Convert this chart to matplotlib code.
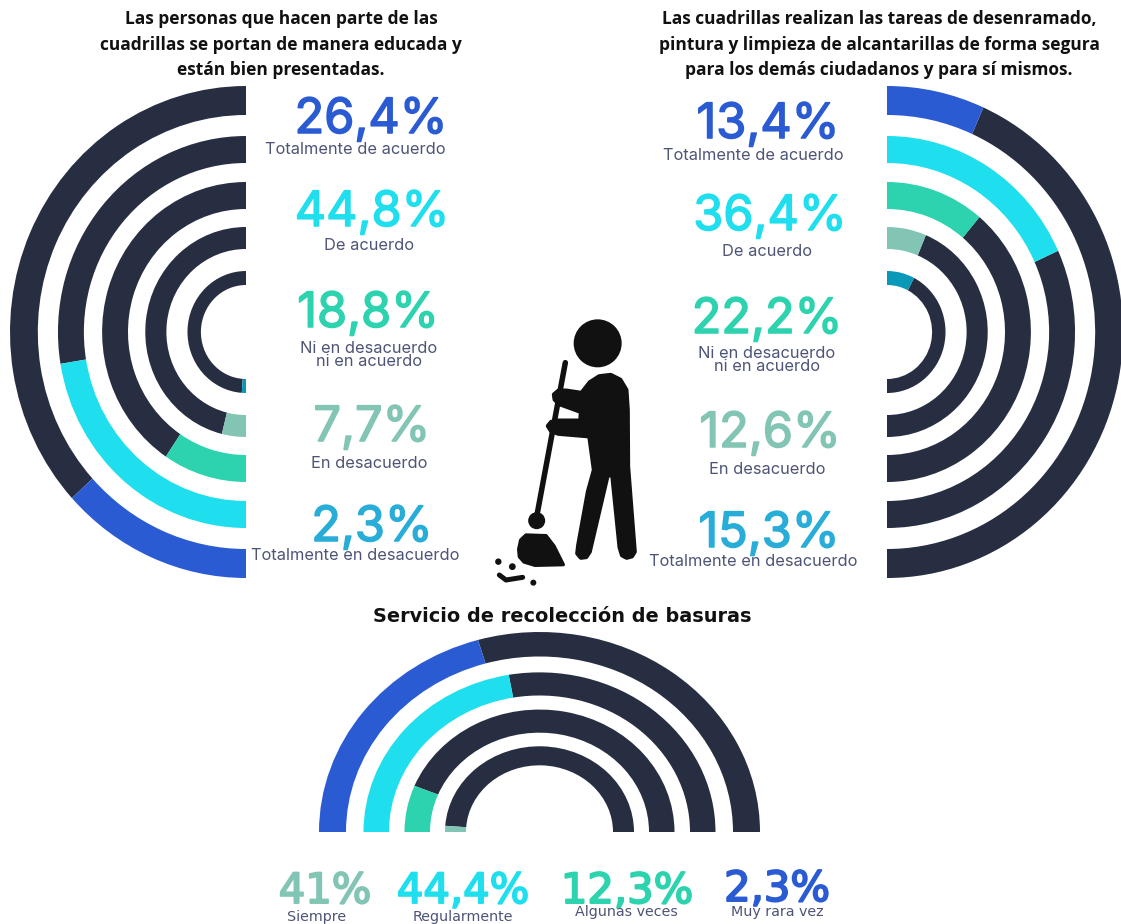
import matplotlib
matplotlib.use("Agg")
import matplotlib.pyplot as plt
import matplotlib.patheffects as pe
from matplotlib.patches import Wedge, Circle, PathPatch
from matplotlib.path import Path

W, H = 1121, 924

# Survey results, in percent
courtesy_values = [26.4, 44.8, 18.8, 7.7, 2.3]
safety_values = [13.4, 36.4, 22.2, 12.6, 15.3]
waste_values = [41, 44.4, 12.3, 2.3]

agreement_labels = ["Totalmente de acuerdo", "De acuerdo", "Ni en desacuerdo\nni en acuerdo",
                    "En desacuerdo", "Totalmente en desacuerdo"]
frequency_labels = ["Siempre", "Regularmente", "Algunas veces", "Muy rara vez"]

title_courtesy = "Las personas que hacen parte de las\ncuadrillas se portan de manera educada y\nestán bien presentadas."
title_safety = "Las cuadrillas realizan las tareas de desenramado,\npintura y limpieza de alcantarillas de forma segura\npara los demás ciudadanos y para sí mismos."
title_waste = "Servicio de recolección de basuras"

DARK = "#282e42"
RING_COLORS = ["#2a5bd3", "#1fdfee", "#2cd3ae", "#83c5b5", "#0899b8"]
TEXT_COLORS = ["#2a5bd3", "#1fdfee", "#2cd3ae", "#83c5b5", "#27add8"]
WASTE_RINGS = ["#2a5bd3", "#1fdfee", "#2cd3ae", "#83c5b5"]
WASTE_TEXT = ["#83c5b5", "#1fdfee", "#2cd3ae", "#2a5bd3"]
LABEL_COLOR = "#4d5476"

fig = plt.figure(figsize=(W / 100, H / 100), dpi=100, facecolor="white")


def pixel_axes(x0, y0, x1, y1):
    """Axes covering a pixel box measured from the top-left corner."""
    ax = fig.add_axes([x0 / W, 1 - y1 / H, (x1 - x0) / W, (y1 - y0) / H])
    ax.axis("off")
    return ax


def draw_rings(ax, values, colors, radii, start, span):
    """Clockwise rings: the coloured share starts at `start`, the rest is dark."""
    for value, color, (outer, inner) in zip(values, colors, radii):
        sweep = span * value / 100
        ax.add_patch(Wedge((0, 0), outer, start - span, start - sweep,
                           width=outer - inner, fc=DARK, ec="none"))
        ax.add_patch(Wedge((0, 0), outer, start - sweep, start,
                           width=outer - inner, fc=color, ec="none"))


side_radii = [(246, 217), (196, 169), (150, 123), (105, 83), (61, 47)]
waste_radii = [(220.5, 193.5), (176, 150.5), (135, 109.5), (94.5, 73.5)]

# Half rings on either side, slightly narrowed horizontally
left = pixel_axes(0, 86, 246, 578)
left.set_xlim(-246 * 246 / 236, 0)
left.set_ylim(-246, 246)
draw_rings(left, courtesy_values, RING_COLORS, side_radii, 270, 180)

right = pixel_axes(887, 86, 1121, 578)
right.set_xlim(0, 234 * 246 / 236)
right.set_ylim(-246, 246)
draw_rings(right, safety_values, RING_COLORS, side_radii, 90, 180)

# Flattened half rings at the bottom
bottom = pixel_axes(319, 632, 760, 832)
bottom.set_xlim(-220.5, 220.5)
bottom.set_ylim(0, 220.5)
draw_rings(bottom, waste_values, WASTE_RINGS, waste_radii, 180, 180)

# Overlay in pixel coordinates for text and the pictogram
ov = pixel_axes(0, 0, W, H)
ov.set_xlim(0, W)
ov.set_ylim(H, 0)
ov.patch.set_alpha(0)


def pct(v):
    return f"{v:g}".replace(".", ",") + "%"


def heavier(color, width):
    return [pe.withStroke(linewidth=width, foreground=color)]


TITLE_FONT = dict(family="Open Sans", weight="bold", color="#111111", ha="center", va="center")
ov.text(281, 44.5, title_courtesy, fontsize=12.5, linespacing=1.55, **TITLE_FONT)
ov.text(879, 44.5, title_safety, fontsize=12.5, linespacing=1.55, **TITLE_FONT)
ov.text(562, 616, title_waste, fontsize=13.9, family="DejaVu Sans", weight="bold",
        color="#111111", ha="center", va="center")

left_pct_pos = [(371, 133), (372, 226), (368, 327), (372, 441), (372, 541)]
left_lab_pos = [(355, 150), (369, 246), (369, 355), (369, 464), (355, 556)]
right_pct_pos = [(768, 138), (770, 230), (767, 333), (770, 447), (769, 547)]
right_lab_pos = [(753, 155), (767, 251), (767, 360), (767, 469), (753, 562)]

for values, pct_pos, lab_pos in [(courtesy_values, left_pct_pos, left_lab_pos),
                                 (safety_values, right_pct_pos, right_lab_pos)]:
    for v, c, (px, py), (lx, ly), lab in zip(values, TEXT_COLORS, pct_pos, lab_pos, agreement_labels):
        ov.text(px, py, pct(v), fontsize=35, family="Inter", color=c, ha="center", va="baseline",
                path_effects=heavier(c, 1.1))
        ov.text(lx, ly, lab, fontsize=11.8, family="Inter", color=LABEL_COLOR,
                ha="center", va="center", linespacing=0.85)

waste_pct_pos = [(325, 903), (463, 903), (627, 903), (777, 901)]
waste_lab_pos = [(317, 917), (463, 917), (626, 912), (777, 912)]
for v, c, (px, py), (lx, ly), lab in zip(waste_values, WASTE_TEXT, waste_pct_pos, waste_lab_pos, frequency_labels):
    ov.text(px, py, pct(v), fontsize=30, family="DejaVu Sans", color=c, ha="center", va="baseline",
            path_effects=heavier(c, 1.4))
    ov.text(lx, ly, lab, fontsize=10.3, family="DejaVu Sans", color=LABEL_COLOR,
            ha="center", va="center")


# Pictogram of a worker sweeping, sketched on a local 3x grid
def gx(x):
    return 480 + x / 3


def gy(y):
    return 310 + y / 3


def blob(points, lw=0.0):
    verts = [(gx(x), gy(y)) for x, y in points]
    path = Path(verts + [verts[0]], [Path.MOVETO] + [Path.LINETO] * (len(verts) - 1) + [Path.CLOSEPOLY])
    ov.add_patch(PathPatch(path, fc="#111111", ec="#111111", lw=lw, joinstyle="round"))


def stroke(points, width):
    xs = [gx(x) for x, _ in points]
    ys = [gy(y) for _, y in points]
    ov.plot(xs, ys, color="#111111", lw=width * 0.72, solid_capstyle="round", solid_joinstyle="round")


ov.add_patch(Circle((gx(353), gy(100)), 24, fc="#111111", ec="none"))
stroke([(256, 158), (170, 620)], 5.5)
ov.add_patch(Circle((gx(170), gy(632)), 8.5, fc="#111111", ec="none"))

# Torso, legs and arms, rounded by a thick edge with round joins
body = [(305, 250), (330, 218), (358, 200), (392, 196), (420, 210), (438, 240), (442, 300), (443, 470),
        (463, 725), (455, 738), (440, 742), (427, 735), (420, 712), (398, 495), (382, 495), (328, 725),
        (318, 740), (303, 742), (293, 730), (296, 705), (325, 545), (343, 480), (329, 378), (235, 370),
        (214, 362), (205, 348), (214, 337), (232, 333), (302, 333), (304, 305), (238, 281), (225, 268),
        (223, 254), (236, 243), (258, 243)]
blob(body, lw=3.6)

broom = [(116, 718), (122, 690), (138, 675), (198, 677), (222, 708), (250, 764), (165, 766), (132, 756), (118, 740)]
blob(broom, lw=2.4)

for dx, dy, r in [(55, 755, 3.2), (97, 770, 3.4), (160, 818, 3.0)]:
    ov.add_patch(Circle((gx(dx), gy(dy)), r, fc="#111111", ec="none"))
stroke([(58, 795), (78, 810), (128, 802)], 5)

fig.savefig("out.png", dpi=100, facecolor="white")
